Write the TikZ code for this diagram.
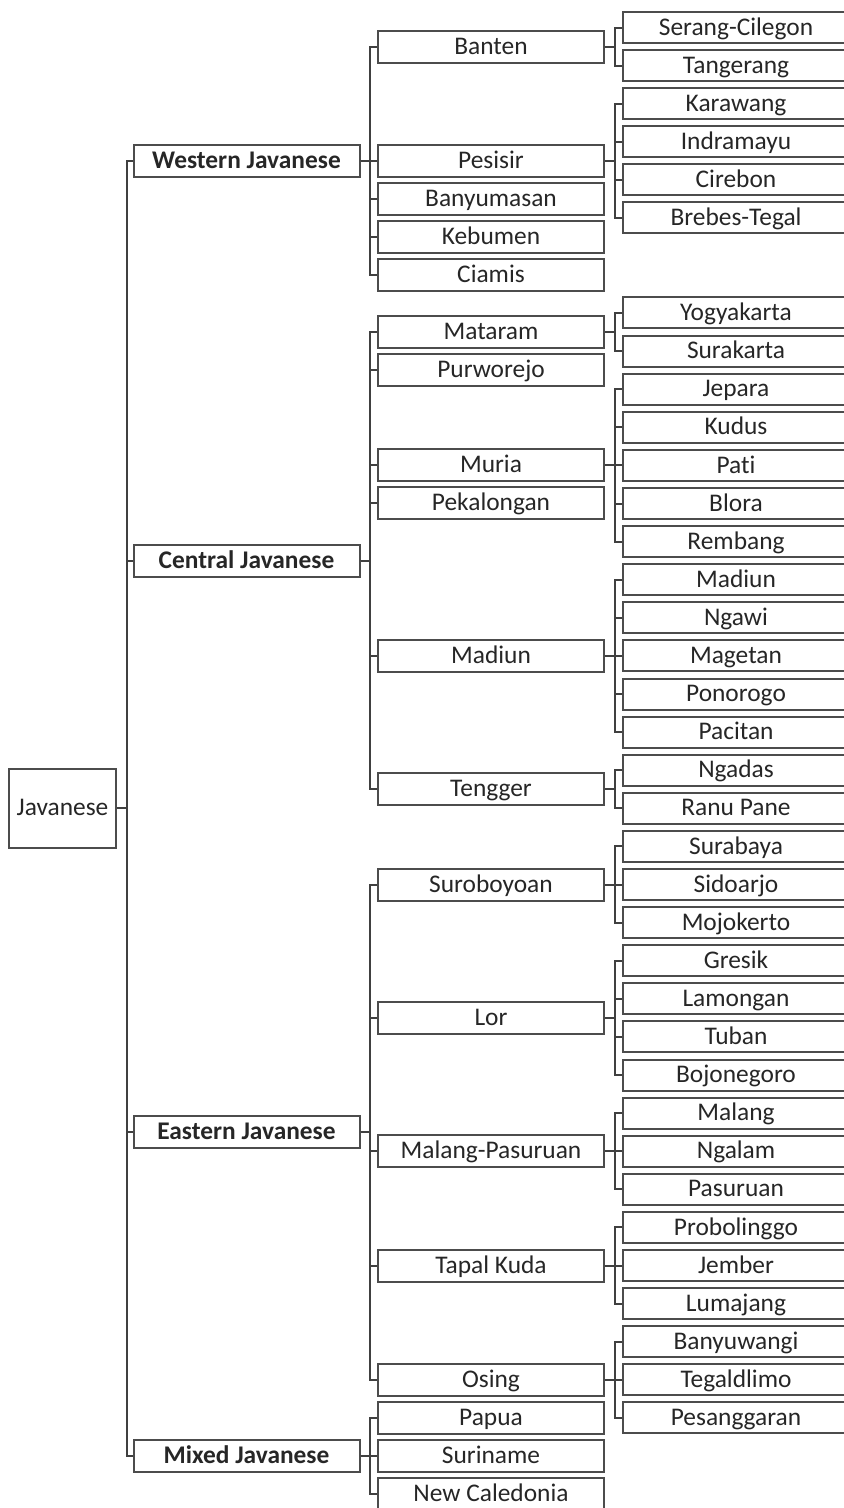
\documentclass[tikz,border=0pt]{standalone}
\usepackage{fontspec}
\setmainfont{Carlito}[Ligatures=NoCommon]
\usepackage{tikz}

\begin{document}
\begin{tikzpicture}[x=0.5pt,y=-0.5pt,
  font=\fontsize{12.7}{14}\selectfont,text=black!85,
  box/.style={draw=black!70,line width=1pt,inner sep=0pt,text height=9.4pt,text depth=1.8pt,
    minimum width=113pt,minimum height=16pt},
  leaf/.style={box,minimum height=15.5pt},
  top/.style={box,font=\fontsize{12.7}{14}\selectfont\bfseries},
  link/.style={draw=black!75,line width=1pt}]
  \useasboundingbox (0,0) rectangle (844,1508);
  % root
  \node[box,minimum width=53.5pt,minimum height=39.5pt] (jav) at (62.5,808) {Javanese};
  % first level
  \node[top] (west) at (246.5,161) {Western Javanese};
  \node[top] (cent) at (246.5,561) {Central Javanese};
  \node[top] (east) at (246.5,1132) {Eastern Javanese};
  \node[top] (mix) at (246.5,1456) {Mixed Javanese};
  % second level
  \foreach \n/\t/\y in {banten/Banten/47, pesisir/Pesisir/161, banyu/Banyumasan/199,
      kebumen/Kebumen/237, ciamis/Ciamis/275, mataram/Mataram/332, purwo/Purworejo/370,
      muria/Muria/465, pekal/Pekalongan/503, madiunG/Madiun/656, tengger/Tengger/789,
      surob/Suroboyoan/885, lor/Lor/1018, malpas/Malang-Pasuruan/1151, tapal/Tapal Kuda/1266,
      osing/Osing/1380, papua/Papua/1418, surin/Suriname/1456, newcal/New Caledonia/1494}
    \node[box] (\n) at (491,\y) {\t};
  % third level
  \foreach \n/\t/\y in {serang/Serang-Cilegon/28, tanger/Tangerang/66, karaw/Karawang/104,
      indra/Indramayu/142, cirebon/Cirebon/180, brebes/Brebes-Tegal/218,
      yogya/Yogyakarta/313, surak/Surakarta/351.1, jepara/Jepara/389.2, kudus/Kudus/427.3,
      pati/Pati/465.4, blora/Blora/503.5, rembang/Rembang/541.6, madiun/Madiun/579.7,
      ngawi/Ngawi/617.8, magetan/Magetan/655.9, ponor/Ponorogo/694, pacitan/Pacitan/732.1,
      ngadas/Ngadas/770.2, ranu/Ranu Pane/808.3, suraba/Surabaya/846.4, sidoar/Sidoarjo/884.5,
      mojo/Mojokerto/922.6, gresik/Gresik/960.7, lamong/Lamongan/998.8, tuban/Tuban/1036.9,
      bojo/Bojonegoro/1075, malang/Malang/1113.1, ngalam/Ngalam/1151.2, pasur/Pasuruan/1189.3,
      probo/Probolinggo/1227.4, jember/Jember/1265.5, lumaj/Lumajang/1303.6,
      banyw/Banyuwangi/1341.7, tegal/Tegaldlimo/1379.8, pesang/Pesanggaran/1417.9}
    \node[leaf] (\n) at (736,\y) {\t};
  % connectors
  \foreach \p/\c in {jav/west, jav/cent, jav/east, jav/mix,
      west/banten, west/pesisir, west/banyu, west/kebumen, west/ciamis,
      cent/mataram, cent/purwo, cent/muria, cent/pekal, cent/madiunG, cent/tengger,
      east/surob, east/lor, east/malpas, east/tapal, east/osing,
      mix/papua, mix/surin, mix/newcal,
      banten/serang, banten/tanger, pesisir/karaw, pesisir/indra, pesisir/cirebon, pesisir/brebes,
      mataram/yogya, mataram/surak, muria/jepara, muria/kudus, muria/pati, muria/blora, muria/rembang,
      madiunG/madiun, madiunG/ngawi, madiunG/magetan, madiunG/ponor, madiunG/pacitan,
      tengger/ngadas, tengger/ranu, surob/suraba, surob/sidoar, surob/mojo,
      lor/gresik, lor/lamong, lor/tuban, lor/bojo, malpas/malang, malpas/ngalam, malpas/pasur,
      tapal/probo, tapal/jember, tapal/lumaj, osing/banyw, osing/tegal, osing/pesang}
    \draw[link] (\p.east) -- ++(9.5,0) |- (\c.west);
\end{tikzpicture}
\end{document}
